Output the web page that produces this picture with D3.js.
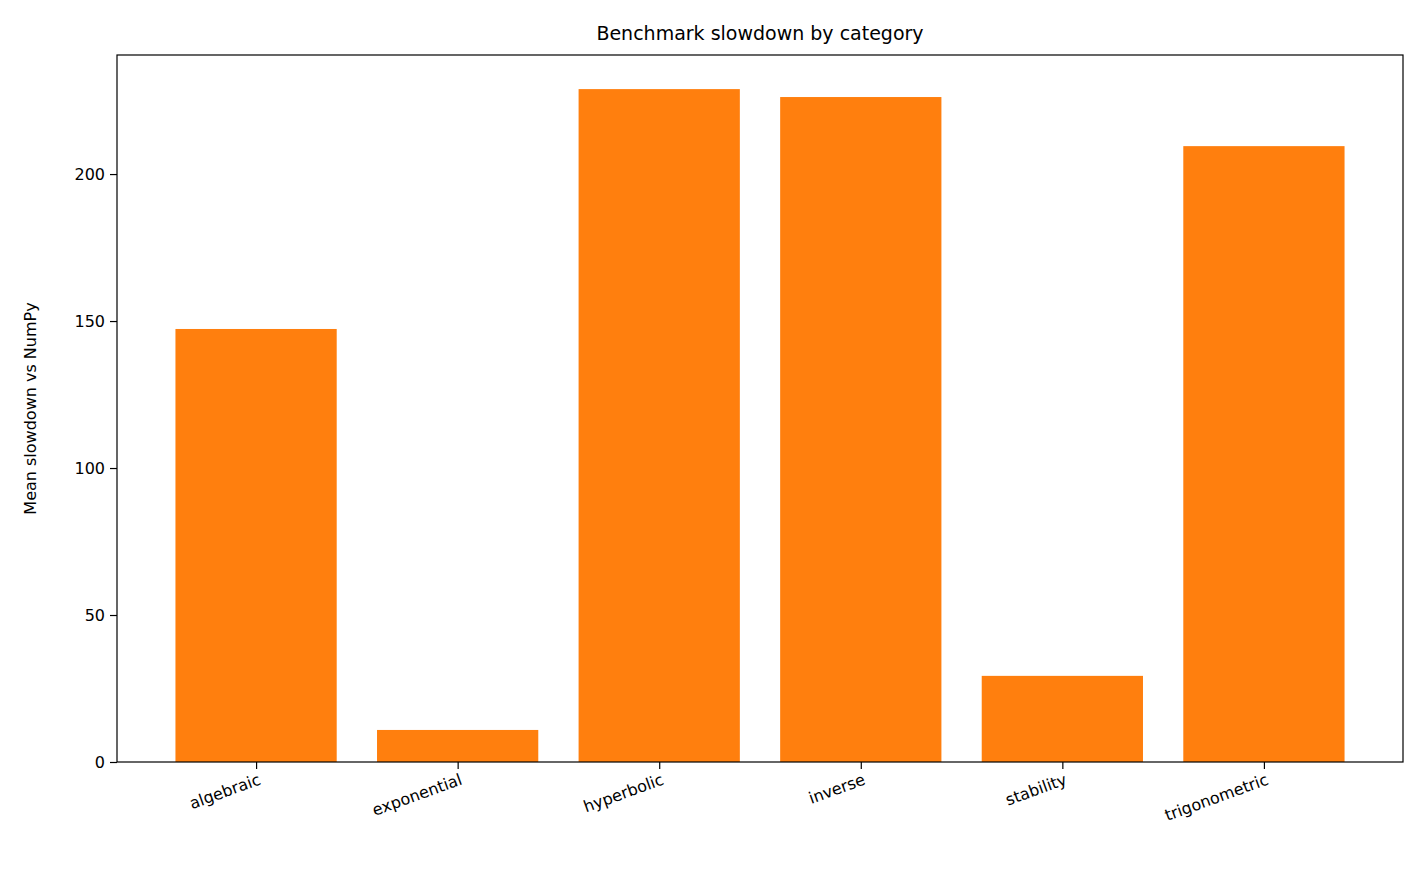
<!DOCTYPE html>
<html><head><meta charset="utf-8">
<script src="https://cdn.jsdelivr.net/npm/d3@7"></script>
<style>body{margin:0;background:#fff}text{font-family:"DejaVu Sans",sans-serif;fill:#000}</style>
</head><body>
<svg id="c" width="1421" height="878"></svg>
<script>
const categories=["algebraic","exponential","hyperbolic","inverse","stability","trigonometric"];
const values=[147.3,10.9,228.9,226.2,29.3,209.5];
const yTicks=[0,50,100,150,200];
const svg=d3.select("#c");
const L=117,R=1403,T=55,B=762;
const x=d3.scaleLinear().domain([-0.69,5.69]).range([L,R]);
const y=d3.scaleLinear().domain([0,240.5]).range([B,T]);
const bw=x(0.4)-x(-0.4);
svg.selectAll("rect.bar").data(values).join("rect").attr("class","bar")
 .attr("x",(d,i)=>x(i)-bw/2).attr("width",bw).attr("y",d=>y(d)).attr("height",d=>B-y(d)).attr("fill","#ff7f0e");
const ya=svg.append("g").attr("transform",`translate(${L},0)`).call(d3.axisLeft(y).tickValues(yTicks).tickSize(7).tickPadding(5));
ya.selectAll("text").style("font-size","16px");
const xa=svg.append("g").attr("transform",`translate(0,${B})`).call(d3.axisBottom(x).tickValues(d3.range(6)).tickFormat(i=>categories[i]).tickSize(7));
xa.selectAll("text").style("font-size","16px").attr("text-anchor","end").attr("dy","0.3em")
 .attr("transform","translate(0,8) rotate(-20)");
[ya,xa].forEach(a=>{a.select(".domain").remove();a.selectAll("line").attr("stroke","#000").attr("stroke-width",1.2);});
svg.append("rect").attr("x",L).attr("y",T).attr("width",R-L).attr("height",B-T).attr("fill","none").attr("stroke","#000").attr("stroke-width",1.2);
svg.append("text").attr("x",(L+R)/2).attr("y",40).attr("text-anchor","middle").style("font-size","19px").text("Benchmark slowdown by category");
svg.append("text").attr("transform",`translate(36,${(T+B)/2}) rotate(-90)`).attr("text-anchor","middle").style("font-size","16px").text("Mean slowdown vs NumPy");
</script>
</body></html>
